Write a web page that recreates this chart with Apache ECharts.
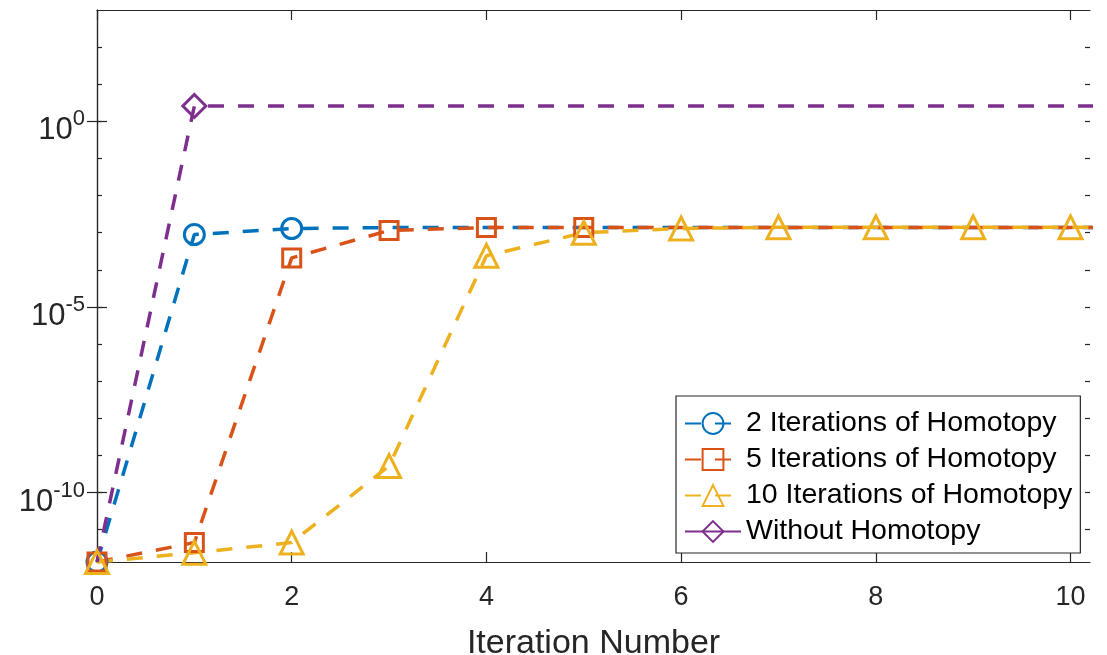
<!DOCTYPE html>
<html>
<head>
<meta charset="utf-8">
<title>Homotopy iterations</title>
<script src="https://cdn.jsdelivr.net/npm/echarts@6/dist/echarts.min.js"></script>
<style>
  html, body { margin: 0; padding: 0; background: #fff; }
  #main { width: 1107px; height: 655px; }
</style>
</head>
<body>
<div id="main"></div>
<script>
// x values (iteration number); last point lies past the visible axis end
var iterations = [0, 1, 2, 3, 4, 5, 6, 7, 8, 9, 10, 11];

// values
var twoIter = [1.35e-12, 8.9e-4, 1.3e-3, 1.38e-3, 1.38e-3, 1.38e-3, 1.38e-3, 1.38e-3, 1.38e-3, 1.38e-3, 1.38e-3, 1.38e-3];
var fiveIter = [1.35e-12, 4.5e-12, 2.1e-4, 1.15e-3, 1.38e-3, 1.38e-3, 1.38e-3, 1.38e-3, 1.38e-3, 1.38e-3, 1.38e-3, 1.38e-3];
var tenIter = [1.35e-12, 2.4e-12, 4.5e-12, 5.2e-10, 2.4e-4, 1.0e-3, 1.3e-3, 1.4e-3, 1.4e-3, 1.4e-3, 1.4e-3, 1.4e-3];
var noHomotopy = [1.35e-12, 2.6, 2.6, 2.6, 2.6, 2.6, 2.6, 2.6, 2.6, 2.6, 2.6, 2.6];

var seriesNames = ['2 Iterations of Homotopy', '5 Iterations of Homotopy', '10 Iterations of Homotopy', 'Without Homotopy'];
var xTickValues = [0, 2, 4, 6, 8, 10];
var yMajorTicks = [1e-10, 1e-5, 1];
var yMinorTicks = [1e-11, 1e-10, 1e-9, 1e-8, 1e-7, 1e-6, 1e-5, 1e-4, 1e-3, 1e-2, 1e-1, 1, 1e1, 1e2];

var FONT = "'Liberation Sans', Arial, Helvetica, sans-serif";
var AXIS_COLOR = '#262626';

function buildData(values, markerFrom, markerTo) {
    var out = [];
    for (var i = 0; i < iterations.length; i++) {
        var item = { value: [iterations[i], values[i]] };
        if (i < markerFrom || i > markerTo) {
            item.symbol = 'none';
        }
        out.push(item);
    }
    return out;
}

function makeSeries(name, values, color, symbol, size, markerFrom, markerTo) {
    return {
        name: name,
        type: 'line',
        data: buildData(values, markerFrom, markerTo),
        symbol: symbol,
        symbolSize: size,
        showAllSymbol: true,
        color: color,
        lineStyle: { color: color, width: 3.5, type: [16, 14] },
        itemStyle: { color: 'rgba(255,255,255,0)', borderColor: color, borderWidth: 3 },
        emphasis: { disabled: true },
        animation: false
    };
}

function yLabel(val) {
    var r = Math.round(Math.log(val) / Math.LN10);
    return '{b|10}{s|' + r + '}';
}

var yMin = 1.35e-12;
var yMax = 1000;

function yAxisDef(position, ticks, tickLen, showLabel, showLine) {
    return {
        type: 'log',
        logBase: 10,
        position: position,
        min: yMin,
        max: yMax,
        axisLine: { show: showLine, lineStyle: { color: AXIS_COLOR, width: 1.2 } },
        axisTick: { show: true, inside: true, length: tickLen, customValues: ticks, lineStyle: { color: AXIS_COLOR, width: 1.2 } },
        splitLine: { show: false },
        axisLabel: {
            show: showLabel,
            customValues: ticks,
            margin: 12,
            padding: [12, 0, 0, 0],
            formatter: yLabel,
            rich: {
                b: { fontSize: 31, fontFamily: FONT, color: AXIS_COLOR, lineHeight: 38, verticalAlign: 'bottom' },
                s: { fontSize: 22, fontFamily: FONT, color: AXIS_COLOR, lineHeight: 22, verticalAlign: 'top' }
            }
        }
    };
}

function xAxisDef(position, showLabel) {
    var ax = {
        type: 'value',
        position: position,
        min: 0,
        max: 10.2,
        axisLine: { show: true, onZero: false, lineStyle: { color: AXIS_COLOR, width: 1.2 } },
        axisTick: { show: true, inside: true, length: 10, customValues: xTickValues, lineStyle: { color: AXIS_COLOR, width: 1.2 } },
        splitLine: { show: false },
        axisLabel: {
            show: showLabel,
            customValues: xTickValues,
            margin: 22,
            fontSize: 27,
            fontFamily: FONT,
            color: AXIS_COLOR
        }
    };
    if (showLabel) {
        ax.name = 'Iteration Number';
        ax.nameLocation = 'middle';
        ax.nameGap = 65;
        ax.nameTextStyle = { fontSize: 34, fontFamily: FONT, color: AXIS_COLOR };
    }
    return ax;
}

var myChart = echarts.init(document.getElementById('main'));
var option = {
    backgroundColor: '#ffffff',
    animation: false,
    grid: { left: 97, right: 17, top: 10, bottom: 93, containLabel: false, outerBoundsMode: 'none' },
    legend: {
        orient: 'vertical',
        left: 676,
        top: 396,
        padding: [12, 8, 6, 8],
        itemWidth: 56,
        itemHeight: 26,
        itemGap: 5,
        backgroundColor: '#ffffff',
        borderColor: AXIS_COLOR,
        borderWidth: 1.2,
        borderRadius: 0,
        selectedMode: false,
        textStyle: { fontSize: 28.5, fontFamily: FONT, color: '#000', lineHeight: 31 },
        data: [
            { name: seriesNames[0] },
            { name: seriesNames[1] },
            { name: seriesNames[2] },
            { name: seriesNames[3], lineStyle: { type: 'solid' } }
        ]
    },
    xAxis: [
        xAxisDef('bottom', true),
        xAxisDef('top', false)
    ],
    yAxis: [
        yAxisDef('left', yMajorTicks, 10, true, true),
        yAxisDef('right', yMajorTicks, 10, false, true),
        yAxisDef('left', yMinorTicks, 5, false, false),   // flips to the free side
        yAxisDef('right', yMinorTicks, 5, false, false)
    ],
    series: [
        makeSeries(seriesNames[0], twoIter, '#0072BD', 'circle', 20, 0, 2),
        makeSeries(seriesNames[1], fiveIter, '#D95319', 'rect', 18, 0, 5),
        makeSeries(seriesNames[2], tenIter, '#EDB120', 'triangle', 23, 0, 10),
        makeSeries(seriesNames[3], noHomotopy, '#7E2F8E', 'diamond', 23, 1, 1)
    ]
};
myChart.setOption(option);
</script>
</body>
</html>
